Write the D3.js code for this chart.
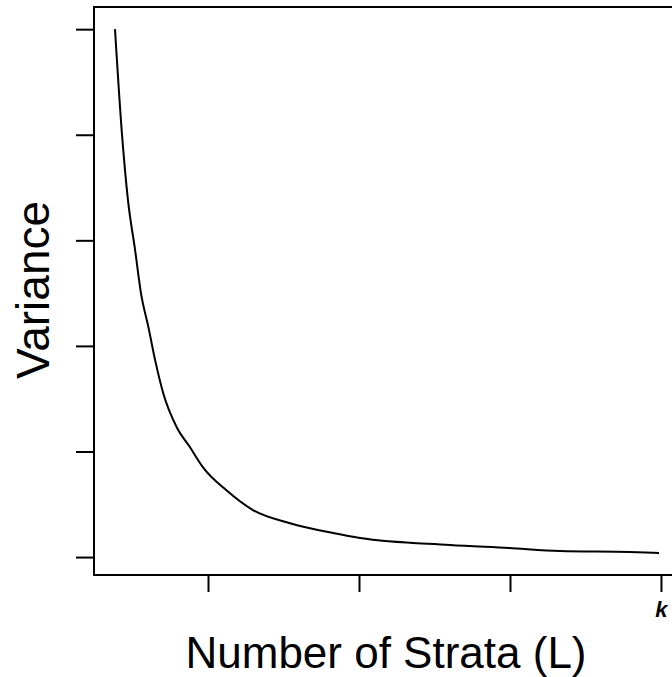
<!DOCTYPE html>
<html>
<head>
<meta charset="utf-8">
<script src="https://cdn.jsdelivr.net/npm/d3@7"></script>
<style>
  html, body { margin: 0; padding: 0; background: #fff; }
  svg { display: block; }
  text { font-family: "Liberation Sans", Arial, sans-serif; }
</style>
</head>
<body>
<svg id="chart" width="672" height="677"></svg>
<script>
// ------------------------------------------------------------
// Variance vs number of strata
// ------------------------------------------------------------

// Number of strata (L) along the curve
var strata = [3.84, 4.30, 4.70, 5.17, 5.56, 6.05, 6.49, 7.04, 7.93, 8.81,
              9.67, 11.24, 12.98, 15.43, 18.28, 20.07, 26.03, 29.93, 33.31, 37.95, 39.87];

// Variance at each L (unitless, 0..5 between the first and last y tick)
var variance = [5.0, 4.01, 3.38, 2.91, 2.50, 2.18, 1.87, 1.55, 1.23, 1.04,
                0.85, 0.63, 0.445, 0.32, 0.227, 0.18, 0.114, 0.085, 0.057, 0.047, 0.038];

// Axis ticks (unlabelled except the last x tick)
var xTicks = [10, 20, 30, 40];
var xTickLabels = ['', '', '', 'k'];
var yTicks = [0, 1, 2, 3, 4, 5];

(function() {
  var svg = d3.select('#chart');

  // plot box (right edge is cut off by the picture)
  var boxLeft = 94, boxTop = 7, boxRight = 680, boxBottom = 575;

  var x = d3.scaleLinear().domain([2.45, 41.26]).range([boxLeft, boxRight]);
  var y = d3.scaleLinear().domain([-0.17, 5.21]).range([boxBottom, boxTop]);

  // box
  svg.append('rect')
    .attr('x', boxLeft).attr('y', boxTop)
    .attr('width', boxRight - boxLeft).attr('height', boxBottom - boxTop)
    .attr('fill', 'none').attr('stroke', '#000').attr('stroke-width', 2);

  // x axis ticks
  var xAxis = svg.append('g')
    .attr('transform', 'translate(0,' + boxBottom + ')')
    .call(d3.axisBottom(x)
      .tickValues(xTicks)
      .tickSize(17)
      .tickFormat(function(d, i) { return xTickLabels[i]; }));
  xAxis.select('.domain').remove();
  xAxis.selectAll('line').attr('stroke', '#000').attr('stroke-width', 2);
  xAxis.selectAll('text')
    .attr('y', 26)
    .attr('dy', '0.71em')
    .attr('font-size', 22)
    .attr('font-weight', 'bold')
    .attr('font-style', 'italic')
    .attr('fill', '#000')
    .attr('font-family', '"Liberation Sans", Arial, sans-serif');

  // y axis ticks
  var yAxis = svg.append('g')
    .attr('transform', 'translate(' + boxLeft + ',0)')
    .call(d3.axisLeft(y).tickValues(yTicks).tickSize(18).tickFormat(''));
  yAxis.select('.domain').remove();
  yAxis.selectAll('line').attr('stroke', '#000').attr('stroke-width', 2);

  // the curve
  var points = strata.map(function(L, i) { return [L, variance[i]]; });
  var line = d3.line()
    .x(function(d) { return x(d[0]); })
    .y(function(d) { return y(d[1]); })
    .curve(d3.curveMonotoneX);

  svg.append('path')
    .datum(points)
    .attr('d', line)
    .attr('fill', 'none')
    .attr('stroke', '#000')
    .attr('stroke-width', 2);

  // axis titles
  svg.append('text')
    .attr('x', 386).attr('y', 668)
    .attr('text-anchor', 'middle')
    .attr('font-size', 44)
    .attr('fill', '#000')
    .text('Number of Strata (L)');

  svg.append('text')
    .attr('transform', 'translate(49,290) rotate(-90)')
    .attr('text-anchor', 'middle')
    .attr('font-size', 46)
    .attr('fill', '#000')
    .text('Variance');
})();
</script>
</body>
</html>
